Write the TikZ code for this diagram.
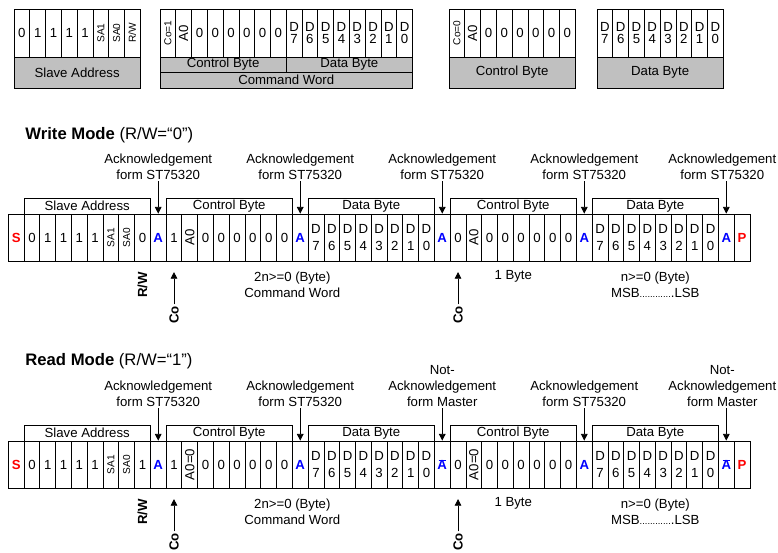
\documentclass[tikz,border=0pt]{standalone}
\usepackage{fontspec}
\setmainfont{Liberation Sans}
\usetikzlibrary{arrows.meta}
\definecolor{lblgray}{RGB}{192,192,192}
\newcommand\ackA{\textcolor{blue}{\bfseries A}}
\newcommand\nackA{\textcolor{blue}{\bfseries\ooalign{A\cr\hidewidth\rule[6.2pt]{5.5pt}{0.7pt}\hidewidth\cr}}}
\newcommand\startS{\textcolor{red}{\bfseries S}}
\newcommand\stopP{\textcolor{red}{\bfseries P}}
\newcommand\rotbig[1]{\rotatebox{90}{#1}}
\newcommand\rotsmall[1]{\rotatebox{90}{\fontsize{7.6}{7.6}\selectfont #1}}
\def\cw{15.78}

\begin{document}
\begin{tikzpicture}[x=0.75pt,y=-0.75pt,line width=0.6pt,
  txt/.style={font=\fontsize{9.9}{12}\selectfont,align=center,inner sep=1pt},
  cell/.style={draw,inner sep=0pt,minimum width=11.835pt,minimum height=35.25pt,align=center,font=\fontsize{9.9}{12.75}\selectfont},
  topcell/.style={cell,minimum height=36pt,font=\fontsize{9.9}{8.5}\selectfont},
  lbl/.style={draw,fill=lblgray,inner sep=0pt,minimum width=94.68pt,font=\fontsize{9.9}{12}\selectfont},
  brk/.style={draw,inner sep=0pt,minimum width=94.68pt,minimum height=12pt,font=\fontsize{9.9}{12}\selectfont},
  arr/.style={-{Triangle[length=5pt,width=5pt]}},
  modetitle/.style={anchor=base west,inner sep=0pt,font=\fontsize{12.5}{15}\selectfont},
  vlab/.style={rotate=90,inner sep=1pt,font=\fontsize{9.9}{12}\selectfont\bfseries}]
\useasboundingbox (0,0) rectangle (778,553);
% byte formats
\begin{scope}[shift={(14,0)}]
\foreach \lab [count=\i from 0] in {0,1,1,1,1,\rotsmall{SA1},\rotsmall{SA0},\rotsmall{R/W}}
  \node[topcell] (sa\i) at ({(\i+.5)*\cw},33) {\lab};
\node[lbl,minimum height=23.25pt] (saname) at ({4*\cw},72.5) {Slave Address};
\end{scope}
\begin{scope}[shift={(160,0)}]
\foreach \lab [count=\i from 0] in {\rotsmall{Co=1},\rotbig{A0},0,0,0,0,0,0,D\\7,D\\6,D\\5,D\\4,D\\3,D\\2,D\\1,D\\0}
  \node[topcell] (cw\i) at ({(\i+.5)*\cw},33) {\lab};
\node[lbl,minimum height=11.25pt] (cwctl) at ({4*\cw},64.5) {Control Byte};
\node[lbl,minimum height=11.25pt] (cwdat) at ({12*\cw},64.5) {Data Byte};
\node[lbl,minimum width=189.36pt,minimum height=12pt] (cwname) at ({8*\cw},80) {Command Word};
\end{scope}
\begin{scope}[shift={(449,0)}]
\foreach \lab [count=\i from 0] in {\rotsmall{Co=0},\rotbig{A0},0,0,0,0,0,0}
  \node[topcell] (cb\i) at ({(\i+.5)*\cw},33) {\lab};
\node[lbl,minimum height=23.25pt] (cbname) at ({4*\cw},72.5) {Control Byte};
\end{scope}
\begin{scope}[shift={(597,0)}]
\foreach \lab [count=\i from 0] in {D\\7,D\\6,D\\5,D\\4,D\\3,D\\2,D\\1,D\\0}
  \node[topcell] (db\i) at ({(\i+.5)*\cw},33) {\lab};
\node[lbl,minimum height=23.25pt] (dbname) at ({4*\cw},72.5) {Data Byte};
\end{scope}
% write mode
\node[modetitle] (wtitle) at (25,139.5) {{\bfseries Write Mode} (R/W=“0”)};
\begin{scope}[shift={(8.3,0)}]
\foreach \lab [count=\i from 0] in {\startS,0,1,1,1,1,\rotsmall{SA1},\rotsmall{SA0},0,\ackA,1,\rotbig{A0},0,0,0,0,0,0,\ackA,D\\7,D\\6,D\\5,D\\4,D\\3,D\\2,D\\1,D\\0,\ackA,0,\rotbig{A0},0,0,0,0,0,0,\ackA,D\\7,D\\6,D\\5,D\\4,D\\3,D\\2,D\\1,D\\0,\ackA,\stopP}
  \node[cell] (w\i) at ({(\i+.5)*\cw},237.5) {\lab};
\foreach \k/\lab in {1/Slave Address,10/Control Byte,19/Data Byte,28/Control Byte,37/Data Byte}
  \node[brk] (wb\k) at ({(\k+4)*\cw},206) {\lab};
\foreach \k/\dx in {9/0,18/0,27/0,36/0,45/-4}{
  \node[txt,anchor=south] (wa\k) at ({(\k+.5)*\cw+\dx},181) {Acknowledgement\\form ST75320};
  \draw[arr] (wa\k.south -| w\k) -- (w\k);}
\node[vlab] (wrw) at ({8.5*\cw},285) {R/W};
\foreach \k in {10,28}{
  \node[vlab] (wco\k) at ({(\k+.5)*\cw},315) {Co};
  \draw[arr,shorten >=8pt] (wco\k) -- (w\k);}
\node[txt] (wcmd) at ({18*\cw},284.5) {2n>=0 (Byte)\\Command Word};
\node[txt] (wone) at ({32*\cw},276) {1 Byte};
\node[txt] (wdat) at ({41*\cw},284.5) {n>=0 (Byte)\\MSB{\fontsize{7}{7}\selectfont............}.LSB};
\end{scope}
% read mode
\node[modetitle] (rtitle) at (25,365.5) {{\bfseries Read Mode} (R/W=“1”)};
\begin{scope}[shift={(8.3,227)}]
\foreach \lab [count=\i from 0] in {\startS,0,1,1,1,1,\rotsmall{SA1},\rotsmall{SA0},1,\ackA,1,\rotbig{A0=0},0,0,0,0,0,0,\ackA,D\\7,D\\6,D\\5,D\\4,D\\3,D\\2,D\\1,D\\0,\nackA,0,\rotbig{A0=0},0,0,0,0,0,0,\ackA,D\\7,D\\6,D\\5,D\\4,D\\3,D\\2,D\\1,D\\0,\nackA,\stopP}
  \node[cell] (r\i) at ({(\i+.5)*\cw},237.5) {\lab};
\foreach \k/\lab in {1/Slave Address,10/Control Byte,19/Data Byte,28/Control Byte,37/Data Byte}
  \node[brk] (rb\k) at ({(\k+4)*\cw},206) {\lab};
\foreach \k/\dx/\lab in {9/0/{Acknowledgement\\form ST75320},18/0/{Acknowledgement\\form ST75320},27/0/{Not-\\Acknowledgement\\form Master},36/0/{Acknowledgement\\form ST75320},45/-4/{Not-\\Acknowledgement\\form Master}}{
  \node[txt,anchor=south] (ra\k) at ({(\k+.5)*\cw+\dx},181) {\lab};
  \draw[arr] (ra\k.south -| r\k) -- (r\k);}
\node[vlab] (rrw) at ({8.5*\cw},285) {R/W};
\foreach \k in {10,28}{
  \node[vlab] (rco\k) at ({(\k+.5)*\cw},315) {Co};
  \draw[arr,shorten >=8pt] (rco\k) -- (r\k);}
\node[txt] (rcmd) at ({18*\cw},284.5) {2n>=0 (Byte)\\Command Word};
\node[txt] (rone) at ({32*\cw},276) {1 Byte};
\node[txt] (rdat) at ({41*\cw},284.5) {n>=0 (Byte)\\MSB{\fontsize{7}{7}\selectfont............}.LSB};
\end{scope}
\end{tikzpicture}
\end{document}
